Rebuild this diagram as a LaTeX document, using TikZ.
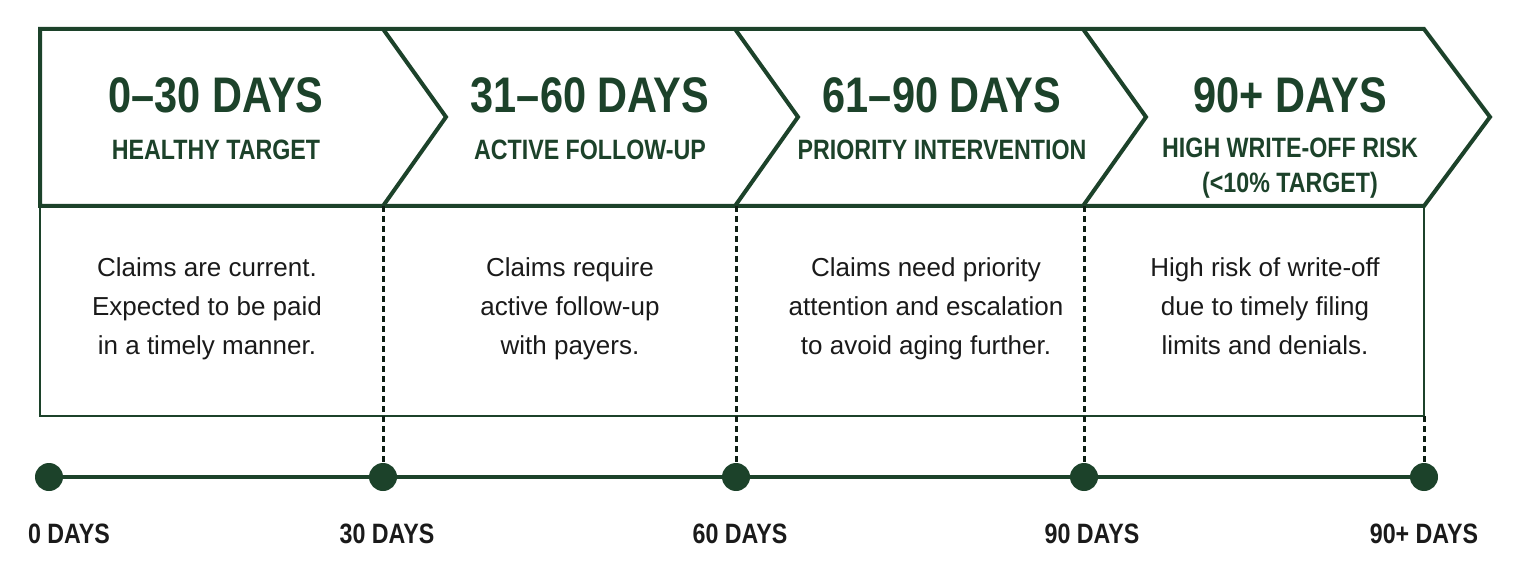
\documentclass[tikz,border=0pt]{standalone}
\usepackage{fontspec}
\setmainfont{Liberation Sans}
\newfontfamily\condfont[FakeStretch=0.83]{Liberation Sans}
\usetikzlibrary{positioning}
\definecolor{agegreen}{RGB}{28,66,42}
\definecolor{agetext}{RGB}{26,26,26}

\begin{document}
\begin{tikzpicture}[x=0.5pt,y=-0.5pt,
 head text/.style={text=agegreen,inner sep=0pt,font={\condfont\bfseries\fontsize{25}{30}\selectfont}},
 sub text/.style={text=agegreen,inner sep=0pt,align=center,font={\condfont\bfseries\fontsize{14}{17.5}\selectfont}},
 body text/.style={text=agetext,inner sep=0pt,align=center,font={\fontsize{13}{19.5}\selectfont}},
 day label/.style={text=agetext,inner sep=0pt,font={\condfont\bfseries\fontsize{14}{17}\selectfont}},
 day dot/.style={circle,fill=agegreen,minimum size=14pt,inner sep=0pt},
 band/.style={draw=agegreen,line width=2pt},
 box line/.style={draw=agegreen,line width=1pt},
 tick line/.style={draw=agegreen!45!black,line width=1.5pt,dash pattern=on 3pt off 2pt}]
  \useasboundingbox (0,0) rectangle (1520,572);

  % lower box and arrow band
  \draw[box line] (40,206) -- (40,416) -- (1424,416) -- (1424,206);
  \draw[band,fill=white] (40,29) -- (1424,29) -- (1490,117) -- (1424,206) -- (40,206) -- cycle;
  \foreach \x in {383,735,1083}
   \draw[band] (\x,29) -- (\x+63,117) -- (\x,206);

  % stage texts
  \foreach \hx/\bx/\by/\sy/\hname/\sname/\bname [count=\i] in {
   216/207/309/150/0–30 DAYS/HEALTHY TARGET/Claims are current.\\Expected to be paid\\in a timely manner.,
   590/570/309/150/31–60 DAYS/ACTIVE FOLLOW-UP/Claims require\\active follow-up\\with payers.,
   942/926/309/150/61–90 DAYS/PRIORITY INTERVENTION/Claims need priority\\attention and escalation\\to avoid aging further.,
   1290/1265/306/168/90+ DAYS/HIGH WRITE-OFF RISK\\(<10\% TARGET)/High risk of write-off\\due to timely filing\\limits and denials.} {
   \node[head text] (h\i) at (\hx,95) {\hname};
   \node[sub text] (s\i) at (\hx,\sy) {\sname};
   \node[body text] (b\i) at (\bx,\by) {\bname};}

  % timeline
  \node[day dot] (d0) at (49,477) {};
  \node[day dot] (d1) at (383,477) {};
  \node[day dot] (d2) at (736,477) {};
  \node[day dot] (d3) at (1084,477) {};
  \node[day dot] (d4) at (1424,477) {};
  \draw[agegreen,line width=2pt] (d0) -- (d4);

  \coordinate (c1) at (383,206);
  \coordinate (c2) at (736,206);
  \coordinate (c3) at (1084,206);
  \coordinate (c4) at (1424,416);
  \foreach \i in {1,...,4}
   \draw[tick line] (c\i) -- (d\i);

  \foreach \i/\t/\s in {0/0 DAYS/10pt, 1/30 DAYS/2pt, 2/60 DAYS/2pt, 3/90 DAYS/4pt, 4/90+ DAYS/0pt}
   \node[day label,below=16pt of d\i,xshift=\s] (l\i) {\t};
\end{tikzpicture}
\end{document}
